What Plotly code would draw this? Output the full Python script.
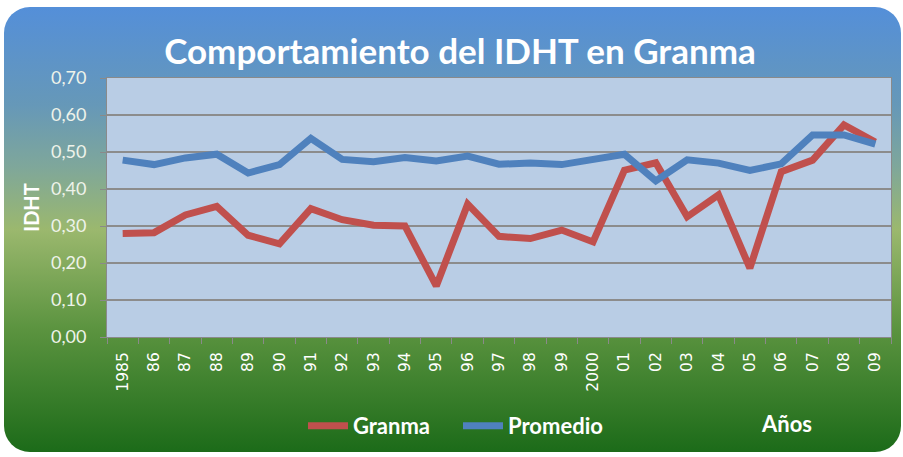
import plotly.graph_objects as go
import base64

years = ["1985", "86", "87", "88", "89", "90", "91", "92", "93", "94", "95", "96", "97",
         "98", "99", "2000", "01", "02", "03", "04", "05", "06", "07", "08", "09"]
granma = [0.280, 0.282, 0.330, 0.353, 0.275, 0.252, 0.347, 0.317, 0.302, 0.300, 0.138, 0.359,
          0.272, 0.266, 0.289, 0.257, 0.451, 0.471, 0.325, 0.384, 0.186, 0.447, 0.478, 0.573, 0.527]
promedio = [0.478, 0.466, 0.484, 0.494, 0.443, 0.466, 0.537, 0.480, 0.474, 0.485, 0.476, 0.489,
            0.467, 0.470, 0.466, 0.480, 0.494, 0.422, 0.479, 0.470, 0.450, 0.468, 0.546, 0.546, 0.521]
y_ticks = [0.0, 0.1, 0.2, 0.3, 0.4, 0.5, 0.6, 0.7]

W, H = 903, 457
L, R, T, B = 107, 12, 78, 120

svg = f'''<svg xmlns="http://www.w3.org/2000/svg" width="{W}" height="{H}" viewBox="0 0 {W} {H}">
<defs><linearGradient id="g" x1="0" y1="0" x2="0" y2="1">
<stop offset="0" stop-color="#548fd9"/>
<stop offset="0.22" stop-color="#6698b8"/>
<stop offset="0.36" stop-color="#7fa79a"/>
<stop offset="0.50" stop-color="#9bb86e"/>
<stop offset="0.72" stop-color="#5c9440"/>
<stop offset="1" stop-color="#1c6b19"/>
</linearGradient></defs>
<rect x="4" y="7" width="{W-6}" height="{H-12}" rx="26" ry="26" fill="url(#g)"/>
</svg>'''
src = "data:image/svg+xml;base64," + base64.b64encode(svg.encode()).decode()

pw, ph = W - L - R, H - T - B

fig = go.Figure()
fig.add_trace(go.Scatter(x=years, y=granma, name="Granma", mode="lines",
                         line=dict(color="#c0504d", width=7)))
fig.add_trace(go.Scatter(x=years, y=promedio, name="Promedio", mode="lines",
                         line=dict(color="#4f81bd", width=7)))

fig.update_layout(
    width=W, height=H,
    margin=dict(l=L, r=R, t=T, b=B),
    paper_bgcolor="white",
    plot_bgcolor="rgba(0,0,0,0)",
    separators=",.",
    title=dict(text="Comportamiento del IDHT en Granma",
               font=dict(family="Lato", size=35, color="white", weight="bold"),
               x=460 / W, xanchor="center", y=1 - 52 / H, yanchor="middle"),
    images=[dict(source=src, xref="paper", yref="paper",
                 x=-L / pw, y=1 + T / ph, sizex=W / pw, sizey=H / ph,
                 xanchor="left", yanchor="top", sizing="stretch", layer="below")],
    shapes=[dict(type="rect", xref="paper", yref="paper", x0=0, x1=1, y0=0, y1=1,
                 fillcolor="#b9cde5", line=dict(width=0), layer="below")],
    showlegend=True,
    legend=dict(orientation="h", x=303 / W, xref="container", y=1 - 426 / H, yref="container",
                yanchor="middle", xanchor="left",
                font=dict(family="Lato", size=22, color="white", weight="bold"),
                bgcolor="rgba(0,0,0,0)", itemwidth=40, tracegroupgap=0,
                entrywidth=100, entrywidthmode="pixels"),
    annotations=[dict(text="Años", xref="paper", yref="paper",
                      x=(786 - L) / pw, y=-(423 - (T + ph)) / ph,
                      xanchor="center", yanchor="middle", showarrow=False,
                      font=dict(family="Lato", size=22, color="white", weight="bold"))],
)

fig.update_xaxes(type="category", range=[-0.5, len(years) - 0.5], tickangle=-90,
                 tickson="boundaries",
                 ticks="outside", ticklen=6, tickcolor="#8a8a8a",
                 showline=True, linecolor="#8a8a8a", linewidth=1, mirror=True,
                 showgrid=False, tickfont=dict(family="DejaVu Sans", size=15.5, color="white"),
                 ticklabelstandoff=8)
fig.update_yaxes(range=[0, 0.7], tickvals=y_ticks, tickformat=".2f",
                 ticks="outside", ticklen=6, tickcolor="#8a8a8a",
                 showline=True, linecolor="#8a8a8a", linewidth=1, mirror=True,
                 showgrid=True, gridcolor="#8c8c8c", gridwidth=1.5, zeroline=False,
                 tickfont=dict(family="Lato", size=18, color="#eef3ea"),
                 ticklabelstandoff=10,
                 title=dict(text="IDHT", standoff=5,
                            font=dict(family="Lato", size=20, color="white", weight="bold")))

fig.write_html("out.html", config={"displayModeBar": False},
               post_script="document.body.style.margin='0px';")
